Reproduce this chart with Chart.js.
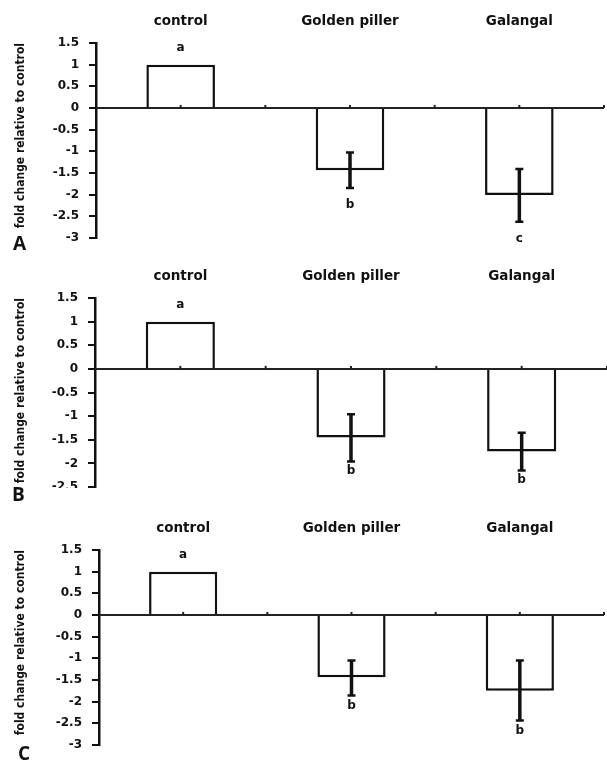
<!DOCTYPE html>
<html>
<head>
<meta charset="utf-8">
<script src="https://cdn.jsdelivr.net/npm/chart.js@4/dist/chart.umd.min.js"></script>
<style>
  body { margin: 0; background: #fff; }
  #wrap { position: relative; width: 607px; height: 762px; overflow: hidden; }
  .panel { position: absolute; left: 0; width: 607px; overflow: hidden; }
  .tag { position: absolute; font-family: 'Open Sans', 'Liberation Sans', sans-serif; font-weight: bold; font-size: 19px; color: #111; line-height: 1; }
</style>
</head>
<body>
<div id="wrap">
  <div class="panel" style="top:0;height:255px"><canvas id="cA" width="607" height="255"></canvas></div>
  <div class="panel" style="top:255px;height:233px"><canvas id="cB" width="607" height="250"></canvas></div>
  <div class="panel" style="top:505px;height:257px"><canvas id="cC" width="607" height="257"></canvas></div>
  <div class="tag" style="left:13px;top:234px">A</div>
  <div class="tag" style="left:12px;top:485px">B</div>
  <div class="tag" style="left:18px;top:744px">C</div>
</div>
<script>
var categories = ['control', 'Golden piller', 'Galangal'];
var yTitle = 'fold change relative to control';

// panel A
var meanA = [1, -1.44, -2.01];
var errHighA = [null, -1.03, -1.41];
var errLowA = [null, -1.85, -2.63];
var lettersA = ['a', 'b', 'c'];

// panel B
var meanB = [1, -1.45, -1.75];
var errHighB = [null, -0.96, -1.35];
var errLowB = [null, -1.96, -2.15];
var lettersB = ['a', 'b', 'b'];

// panel C
var meanC = [1, -1.44, -1.75];
var errHighC = [null, -1.05, -1.05];
var errLowC = [null, -1.86, -2.44];
var lettersC = ['a', 'b', 'b'];

var ink = '#111';
Chart.defaults.font.family = "'DejaVu Sans', Verdana, sans-serif";
Chart.defaults.color = ink;

function makePanel(id, means, hi, lo, letters, yMin, sizes) {
  var marks = {
    id: 'marks',
    afterDatasetsDraw: function (chart) {
      var ctx = chart.ctx, x = chart.scales.x, y = chart.scales.y, area = chart.chartArea;
      var y0 = y.getPixelForValue(0);
      ctx.save();
      // zero line
      ctx.strokeStyle = '#222';
      ctx.lineWidth = 2;
      ctx.beginPath();
      ctx.moveTo(area.left, y0);
      ctx.lineTo(area.right, y0);
      ctx.stroke();
      // small category ticks on the zero line
      for (var k = 0; k < categories.length; k++) {
        var c = x.getPixelForValue(k);
        var b = x.getPixelForValue(k + 0.5);
        [c, b].forEach(function (px) {
          ctx.beginPath();
          ctx.moveTo(px, y0);
          ctx.lineTo(px, y0 - 3);
          ctx.stroke();
        });
      }
      // error bars
      ctx.strokeStyle = ink;
      for (var i = 0; i < means.length; i++) {
        if (hi[i] === null) continue;
        var px = x.getPixelForValue(i);
        var top = y.getPixelForValue(hi[i]);
        var bot = y.getPixelForValue(lo[i]);
        ctx.lineWidth = 3.5;
        ctx.beginPath();
        ctx.moveTo(px, top);
        ctx.lineTo(px, bot);
        ctx.stroke();
        ctx.lineWidth = 2.5;
        ctx.beginPath();
        ctx.moveTo(px - 4, top); ctx.lineTo(px + 4, top);
        ctx.moveTo(px - 4, bot); ctx.lineTo(px + 4, bot);
        ctx.stroke();
      }
      // significance letters
      ctx.fillStyle = ink;
      ctx.font = "bold 12px 'DejaVu Sans', Verdana, sans-serif";
      ctx.textAlign = 'center';
      ctx.textBaseline = 'middle';
      for (var j = 0; j < means.length; j++) {
        var lx = x.getPixelForValue(j);
        var ly = means[j] > 0 ? y.getPixelForValue(means[j]) - 17 : y.getPixelForValue(lo[j]) + sizes.gap;
        ctx.fillText(letters[j], lx, ly);
      }
      ctx.restore();
    }
  };

  return new Chart(document.getElementById(id), {
    type: 'bar',
    data: {
      labels: categories,
      datasets: [{
        data: means,
        backgroundColor: '#fff',
        borderColor: ink,
        borderWidth: 2.5,
        categoryPercentage: 1,
        barPercentage: 0.405
      }]
    },
    options: {
      responsive: false,
      animation: false,
      layout: { padding: { left: 0, top: 0, right: sizes.right, bottom: sizes.bottom } },
      plugins: { legend: { display: false }, tooltip: { enabled: false } },
      scales: {
        x: {
          position: 'top',
          grid: { display: false, drawTicks: false },
          border: { display: false },
          ticks: { padding: 13, font: { size: 13.5, weight: 'bold' }, color: ink },
          afterFit: function (s) { s.height = sizes.top; }
        },
        y: {
          min: yMin,
          max: 1.5,
          ticks: {
            stepSize: 0.5, padding: 10, font: { size: 12, weight: 'bold' }, color: ink,
            callback: function (v) { return String(Math.round(v * 10) / 10); }
          },
          grid: { drawOnChartArea: false, drawTicks: true, tickLength: 7, color: ink, lineWidth: 2 },
          border: { display: true, color: ink, width: 2.5 },
          title: {
            display: true,
            text: yTitle,
            align: 'end',
            color: ink,
            font: { family: "'DejaVu Sans Condensed', 'Liberation Sans Narrow', sans-serif", size: 12, weight: 'bold' },
            padding: { top: 14, bottom: 0 }
          },
          afterFit: function (s) { s.width = sizes.left; }
        }
      }
    },
    plugins: [marks]
  });
}

makePanel('cA', meanA, errHighA, errLowA, lettersA, -3, { top: 43, bottom: 16, left: 96, right: 3, gap: 17 });
makePanel('cB', meanB, errHighB, errLowB, lettersB, -2.5, { top: 43, bottom: 18, left: 95, right: 0, gap: 9 });
makePanel('cC', meanC, errHighC, errLowC, lettersC, -3, { top: 45, bottom: 14, left: 99, right: 3, gap: 10 });
</script>
</body>
</html>
